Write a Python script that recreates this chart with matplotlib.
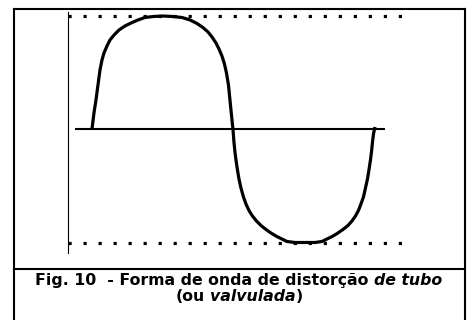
import numpy as np
from matplotlib import pyplot as plt
from matplotlib.lines import Line2D

W, H = 467, 320

# tube (valve) distortion waveform
# phase in degrees, amplitude relative to the clip level
phase_pos = [0, 2.54, 5.09, 7.63, 10.18, 12.72, 15.26, 19.08, 22.90, 27.99,
             34.35, 41.98, 49.61, 58.52, 67.42, 78.87, 90.32, 101.77, 114.49, 124.67,
             133.57, 141.20, 147.56, 152.65, 157.74, 161.55, 165.37, 168.55, 171.10, 173.64,
             175.55, 177.45, 179.36]
amp_pos = [0, 0.144, 0.258, 0.391, 0.523, 0.611, 0.673, 0.735, 0.788, 0.832,
           0.876, 0.912, 0.938, 0.965, 0.987, 0.996, 1.0, 0.996, 0.987, 0.965,
           0.934, 0.898, 0.859, 0.815, 0.762, 0.709, 0.647, 0.576, 0.497, 0.391,
           0.258, 0.126, 0]
phase_neg = [179.36, 180.63, 181.90, 183.18, 185.08, 186.99, 189.54, 192.72, 195.90, 199.71,
             204.17, 209.26, 214.98, 221.34, 227.70, 234.06, 240.42, 248.05, 258.23, 270.95,
             283.67, 292.58, 300.22, 306.58, 312.94, 319.30, 325.66, 330.75, 335.20, 339.02,
             342.20, 345.38, 347.93, 350.47, 352.38, 354.29, 355.56, 356.83, 358.10, 360.0]
amp_neg = [0, -0.115, -0.201, -0.271, -0.359, -0.439, -0.519, -0.598, -0.660, -0.717,
           -0.766, -0.810, -0.850, -0.885, -0.916, -0.943, -0.965, -0.991, -1.0, -1.0,
           -1.0, -0.991, -0.965, -0.943, -0.916, -0.885, -0.850, -0.810, -0.766, -0.717,
           -0.660, -0.598, -0.519, -0.439, -0.359, -0.271, -0.201, -0.115, -0.042, 0.020]
clip_levels = [1, -1]

caption_lines = [
    [("Fig. 10  - Forma de onda de distorção", "normal"), (" ", "normal"), ("de tubo", "italic")],
    [("(ou", "normal"), (" ", "normal"), ("valvulada", "italic"), (")", "normal")],
]


def fx(x):
    return x / W


def fy(y):
    return (H - y) / H


fig = plt.figure(figsize=(W / 100, H / 100), dpi=100)

# frame + divider above the caption
frame = dict(color="black", lw=1.5, solid_capstyle="projecting")
fig.add_artist(Line2D([fx(13.5), fx(13.5)], [fy(8.5), fy(330)], **frame))
fig.add_artist(Line2D([fx(464.5), fx(464.5)], [fy(8.5), fy(330)], **frame))
fig.add_artist(Line2D([fx(13.5), fx(464.5)], [fy(8.5), fy(8.5)], **frame))
fig.add_artist(Line2D([fx(13.5), fx(464.5)], [fy(269), fy(269)], **frame))

# plot area: x in degrees, y in clip units
ax = fig.add_axes([fx(68), fy(242.5), (402 - 68) / W, (242.5 - 16) / H])
x0, x1 = -30.5, 394.4
ax.set_xlim(x0, x1)
ax.set_ylim(-1, 1)
ax.set_axis_off()

# vertical axis
ax.plot([x0, x0], [1.035, -1.093], color="black", lw=0.8, clip_on=False)
# zero line
ax.plot([-21.6, 372.7], [0, 0], color="black", lw=1.5, solid_capstyle="butt", clip_on=False)
# clip levels (dotted)
for lvl in clip_levels:
    ax.plot([x0, x1], [lvl, lvl], color="black", lw=2.3, ls=(0, (1, 3.7)),
            dash_capstyle="butt", clip_on=False)
# waveform
ax.plot(phase_pos + phase_neg[1:], amp_pos + amp_neg[1:], color="black", lw=2.3,
        solid_joinstyle="round", solid_capstyle="butt", clip_on=False)

# caption, mixed bold / bold italic, centred in the frame
renderer = fig.canvas.get_renderer()


def text_width(s, style, size):
    t = fig.text(0, 0, s, fontsize=size, fontweight="bold", fontstyle=style)
    w = t.get_window_extent(renderer).width
    t.remove()
    return w


def seg_width(s, style, size):
    if s == " ":
        return text_width("x x", style, size) - text_width("xx", style, size)
    return text_width(s, style, size)


size = 10
w1 = sum(seg_width(s, st, size) for s, st in caption_lines[0])
size = size * 405 / w1

baselines = [285, 301]
cx = (13.5 + 464.5) / 2
for line, yb in zip(caption_lines, baselines):
    widths = [seg_width(s, st, size) for s, st in line]
    xpos = cx - sum(widths) / 2
    for (s, st), w in zip(line, widths):
        if s != " ":
            fig.text(fx(xpos), fy(yb), s, fontsize=size, fontweight="bold", fontstyle=st,
                     va="baseline", ha="left")
        xpos += w

fig.savefig("out.png", dpi=100)
